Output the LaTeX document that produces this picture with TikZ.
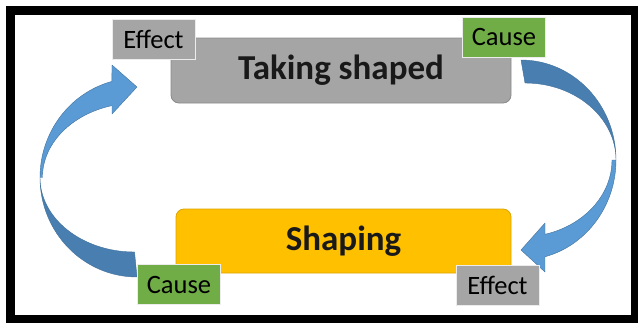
\documentclass[tikz,border=0pt]{standalone}
\usepackage{fontspec}
\setmainfont{Carlito}
\usetikzlibrary{calc}

\definecolor{boxGray}{HTML}{A5A5A5}
\definecolor{boxGrayLine}{HTML}{8A8A8A}
\definecolor{boxGold}{HTML}{FFC000}
\definecolor{boxGoldLine}{HTML}{DBA500}
\definecolor{tagGray}{HTML}{A5A5A5}
\definecolor{tagGreen}{HTML}{70AD47}
\definecolor{arrLight}{HTML}{5B9BD5}
\definecolor{arrDark}{HTML}{497EB0}
\definecolor{arrLine}{HTML}{41719C}

\tikzset{
  bigbox/.style={rounded corners=8pt, line width=0.8pt, minimum height=65pt,
                 inner sep=0pt, font=\fontsize{35}{42}\selectfont\bfseries, text=black!90},
  tag/.style={draw=white!85!gray, line width=0.9pt, minimum width=83pt, minimum height=40pt,
              inner sep=0pt, font=\fontsize{26.5}{32}\selectfont, text=black},
  blockarrow/.style={draw=arrLine, line width=0.4pt, line join=round}
}

\begin{document}
\begin{tikzpicture}[x=1pt, y=-1pt]
  \useasboundingbox (0,0) rectangle (638,322);
   %%%%%%%%%%%%%%%%% frame %%%%%%%%%%%%%%%%%%%
  \draw[line width=9.5pt] (10.5,10.25) rectangle (635.75,319.75);

   %%%%%%%%%%%%%%%%% curved arrows %%%%%%%%%%%%%%%%%%%
   % lc, rc = centres of the two arcs
  \coordinate (lc) at (137,177.5);
  \coordinate (rc) at (521,160);

  % left arrow : lower half dark, upper half with the head
  \fill[arrDark, blockarrow] ($(lc)+(0,99.5)$)
     arc[start angle=90, end angle=180, x radius=97, y radius=99.5]
     arc[start angle=180, end angle=90, x radius=94.5, y radius=74.5] -- cycle;
  \fill[arrLight, blockarrow] ($(lc)+(-97,0)$)
     arc[start angle=180, end angle=255, x radius=97, y radius=99.5]
     -- (112,65) -- (137,87) -- (112,114)
     -- ($(lc)+(-25,-71.9)$)
     arc[start angle=254.7, end angle=180, x radius=94.5, y radius=74.5] -- cycle;

  % right arrow : upper half dark, lower half with the head
  \fill[arrDark, blockarrow] ($(rc)+(0,-100)$)
     arc[start angle=270, end angle=360, x radius=95, y radius=100]
     arc[start angle=0, end angle=-90, x radius=91, y radius=77] -- cycle;
  \fill[arrLight, blockarrow] ($(rc)+(95,0)$)
     arc[start angle=0, end angle=75.4, x radius=95, y radius=100]
     -- (545,272) -- (521,250) -- (545,223)
     -- ($(rc)+(24,74.3)$)
     arc[start angle=74.7, end angle=0, x radius=91, y radius=77] -- cycle;

   %%%%%%%%%%%%%%%%% boxes %%%%%%%%%%%%%%%%%%%
  \node[bigbox, fill=boxGray, draw=boxGrayLine, minimum width=340pt] (taking) at (341,70.5) {Taking shaped};
  \node[bigbox, fill=boxGold, draw=boxGoldLine, minimum width=335pt, minimum height=64pt] (shaping) at (343.5,241) {Shaping};

   %%%%%%%%%%%%%%%%% tags %%%%%%%%%%%%%%%%%%%
   % name / x / y / text / colour
  \foreach \name/\x/\y/\txt/\col in
     {effA/153.5/39/Effect/tagGray, causeA/504/37/Cause/tagGreen,
      causeB/179/284.5/Cause/tagGreen, effB/497.5/285/Effect/tagGray}
     {\node[tag, fill=\col] (\name) at (\x,\y) {\txt};}
\end{tikzpicture}
\end{document}
